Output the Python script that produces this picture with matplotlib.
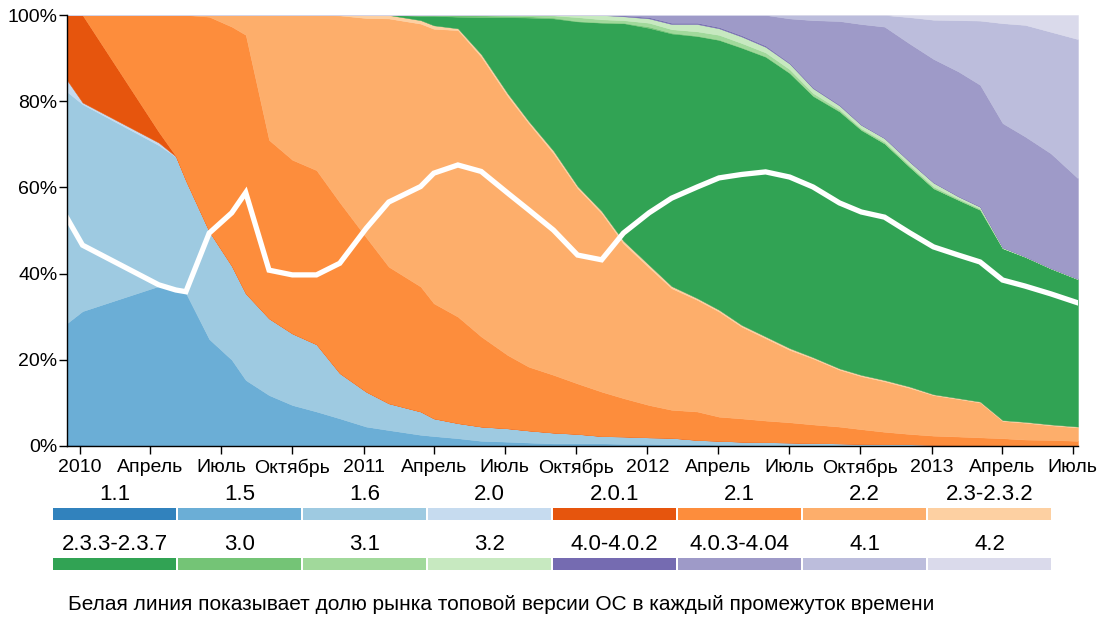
import numpy as np
import pandas as pd
import matplotlib
matplotlib.use("Agg")
import matplotlib.pyplot as plt
import matplotlib.dates as mdates
from matplotlib.patches import Rectangle

plt.rcParams['font.family'] = ['Liberation Sans', 'DejaVu Sans']

# Dashboard snapshot dates
dates = pd.to_datetime([
    "2009-12-15", "2010-01-04", "2010-04-12", "2010-05-04", "2010-05-17", "2010-06-16",
    "2010-07-15", "2010-08-02", "2010-09-01", "2010-10-01", "2010-11-01", "2010-12-01",
    "2011-01-04", "2011-02-02", "2011-03-15", "2011-04-01", "2011-05-02", "2011-06-01",
    "2011-07-05", "2011-08-01", "2011-09-02", "2011-10-03", "2011-11-03", "2011-12-01",
    "2012-01-03", "2012-02-01", "2012-03-05", "2012-04-02", "2012-05-01", "2012-06-01",
    "2012-07-02", "2012-08-01", "2012-09-04", "2012-10-02", "2012-11-01", "2012-12-03",
    "2013-01-03", "2013-02-04", "2013-03-04", "2013-04-02", "2013-05-01", "2013-06-03",
    "2013-07-08",
])

# Share (%) of each version at each date
v1_1 = [0.3, 0.3, 0, 0, 0, 0, 0, 0, 0, 0, 0, 0, 0, 0, 0, 0, 0, 0, 0, 0, 0, 0,
        0, 0, 0, 0, 0, 0, 0, 0, 0, 0, 0, 0, 0, 0, 0, 0, 0, 0, 0, 0, 0]
v1_5 = [28.2, 31.0, 37.1, 36.8, 35.5, 24.8, 20.0, 15.3, 11.8, 9.5, 8.0, 6.4, 4.5, 3.7,
        2.6, 2.3, 1.8, 1.2, 1.0, 0.8, 0.6, 0.6, 0.6, 0.5, 0.5, 0.4, 0.4, 0.3, 0.3, 0.2,
        0.2, 0.2, 0.2, 0.1, 0.1, 0.1, 0.1, 0, 0, 0, 0, 0, 0]
v1_6 = [53.7, 48.0, 32.7, 30.3, 26.0, 24.9, 21.8, 20.1, 17.8, 16.6, 15.6, 10.5, 8.1, 6.2,
        5.4, 4.1, 3.5, 3.3, 3.1, 2.8, 2.5, 2.2, 1.7, 1.7, 1.5, 1.5, 1.0, 0.9, 0.7, 0.7,
        0.6, 0.5, 0.4, 0.4, 0.3, 0.3, 0.2, 0.2, 0.2, 0.1, 0.1, 0.1, 0.0]
v2_0 = [2.7, 0.4, 0.6, 0.1, 0.1, 0.1, 0, 0, 0, 0, 0, 0, 0, 0, 0, 0, 0, 0, 0, 0, 0, 0,
        0, 0, 0, 0, 0, 0, 0, 0, 0, 0, 0, 0, 0, 0, 0, 0, 0, 0, 0, 0, 0]
v2_0_1 = [15.1, 20.3, 2.5, 0.1, 0, 0, 0, 0, 0, 0, 0, 0, 0, 0, 0, 0, 0, 0, 0, 0, 0, 0,
          0, 0, 0, 0, 0, 0, 0, 0, 0, 0, 0, 0, 0, 0, 0, 0, 0, 0, 0, 0, 0]
v2_1 = [0, 0, 27.1, 32.7, 38.4, 49.8, 55.5, 60.0, 41.4, 40.3, 40.4, 39.6, 35.8, 31.7,
        29.0, 26.7, 24.7, 20.9, 17.0, 14.8, 13.4, 11.7, 10.3, 8.9, 7.5, 6.5, 6.6, 5.6,
        5.4, 5.0, 4.7, 4.3, 3.9, 3.4, 2.9, 2.4, 2.1, 2.0, 1.8, 1.7, 1.4, 1.3, 1.2]
v2_2 = [0, 0, 0, 0, 0, 0.4, 2.7, 4.6, 29.0, 33.6, 36.0, 43.4, 50.9, 57.6, 61.0, 63.7,
        66.5, 64.9, 60.1, 56.5, 51.4, 45.3, 41.4, 35.9, 31.9, 28.2, 25.9, 24.4, 21.3,
        19.1, 16.8, 15.3, 13.2, 12.3, 11.7, 10.7, 9.4, 8.7, 8.1, 4.0, 3.9, 3.4, 3.1]
v2_3 = [0, 0, 0, 0, 0, 0, 0, 0, 0, 0, 0, 0.1, 0.7, 0.8, 0.8, 0.8, 0.4, 0.6, 0.6, 0.5,
        0.6, 0.5, 0.5, 0.6, 0.6, 0.5, 0.4, 0.4, 0.4, 0.4, 0.4, 0.3, 0.3, 0.3, 0.3, 0.3,
        0.2, 0.2, 0.2, 0.2, 0.2, 0.2, 0.2]
v2_3_3 = [0, 0, 0, 0, 0, 0, 0, 0, 0, 0, 0, 0, 0, 0, 1.0, 2.2, 2.7, 8.6, 17.7, 24.0,
          30.7, 38.2, 43.7, 50.5, 55.0, 58.6, 60.8, 62.6, 64.3, 64.9, 63.8, 60.6, 59.6,
          56.8, 54.9, 51.0, 47.8, 46.0, 44.5, 39.9, 38.3, 36.2, 34.2]
v3_0 = [0, 0, 0, 0, 0, 0, 0, 0, 0, 0, 0, 0, 0, 0, 0.2, 0.2, 0.4, 0.4, 0.3, 0.3, 0.2,
        0.1, 0.1, 0.1, 0.3, 0.2, 0.1, 0.1, 0.1, 0.1, 0.1, 0.1, 0.1, 0.1, 0, 0, 0, 0, 0,
        0, 0, 0, 0]
v3_1 = [0, 0, 0, 0, 0, 0, 0, 0, 0, 0, 0, 0, 0, 0, 0, 0, 0, 0.1, 0.2, 0.3, 0.5, 0.9,
        0.7, 0.6, 0.9, 0.8, 1.0, 1.1, 1.0, 0.9, 0.8, 0.6, 0.4, 0.3, 0.4, 0.4, 0.4, 0.3,
        0.3, 0, 0, 0, 0]
v3_2 = [0, 0, 0, 0, 0, 0, 0, 0, 0, 0, 0, 0, 0, 0, 0, 0, 0, 0, 0, 0, 0.1, 0.5, 1.0,
        0.9, 1.0, 1.2, 1.7, 1.5, 1.5, 1.3, 1.3, 1.1, 0.9, 0.8, 0.8, 0.8, 0.9, 0.5, 0.4,
        0.2, 0.1, 0.1, 0.1]
v4_0 = [0, 0, 0, 0, 0, 0, 0, 0, 0, 0, 0, 0, 0, 0, 0, 0, 0, 0, 0, 0, 0, 0, 0, 0.2,
        0.3, 0.3, 0.3, 0.3, 0.3, 0.3, 0.2, 0.2, 0.2, 0.1, 0.1, 0.1, 0.1, 0.1, 0.1, 0, 0,
        0, 0]
v4_0_3 = [0, 0, 0, 0, 0, 0, 0, 0, 0, 0, 0, 0, 0, 0, 0, 0, 0, 0, 0, 0, 0, 0, 0, 0.1,
          0.5, 1.8, 1.8, 2.8, 4.7, 7.1, 10.3, 15.6, 19.4, 23.3, 25.8, 27.3, 28.6, 28.9,
          28.2, 28.8, 27.8, 26.6, 23.3]
v4_1 = [0, 0, 0, 0, 0, 0, 0, 0, 0, 0, 0, 0, 0, 0, 0, 0, 0, 0, 0, 0, 0, 0, 0, 0, 0,
        0, 0, 0, 0, 0, 0.8, 1.2, 1.4, 2.1, 2.7, 6.1, 9.1, 11.9, 14.9, 23.2, 25.9, 28.2,
        32.3]
v4_2 = [0, 0, 0, 0, 0, 0, 0, 0, 0, 0, 0, 0, 0, 0, 0, 0, 0, 0, 0, 0, 0, 0, 0, 0, 0,
        0, 0, 0, 0, 0, 0, 0, 0, 0, 0, 0.5, 1.1, 1.2, 1.3, 1.9, 2.3, 3.9, 5.6]

# Share of the most popular version (white line)
top_share = [52.9, 46.6, 37.4, 36.2, 35.8, 49.4, 54.1, 58.8, 40.8, 39.7, 39.7, 42.4,
             50.5, 56.6, 60.2, 63.3, 65.2, 63.7, 58.7, 54.8, 50.1, 44.3, 43.2, 49.4,
             54.1, 57.5, 60.1, 62.2, 63.0, 63.6, 62.4, 60.1, 56.4, 54.3, 53.1, 49.5,
             46.2, 44.3, 42.7, 38.5, 37.1, 35.3, 33.2]

versions = ["1.1", "1.5", "1.6", "2.0", "2.0.1", "2.1", "2.2", "2.3-2.3.2",
            "2.3.3-2.3.7", "3.0", "3.1", "3.2", "4.0-4.0.2", "4.0.3-4.04", "4.1", "4.2"]
series = [v1_1, v1_5, v1_6, v2_0, v2_0_1, v2_1, v2_2, v2_3,
          v2_3_3, v3_0, v3_1, v3_2, v4_0, v4_0_3, v4_1, v4_2]
colors = ["#3182bd", "#6baed6", "#9ecae1", "#c6dbef", "#e6550d", "#fd8d3c", "#fdae6b",
          "#fdd0a2", "#31a354", "#74c476", "#a1d99b", "#c7e9c0", "#756bb1", "#9e9ac8",
          "#bcbddc", "#dadaeb"]

month_names = {4: "Апрель", 7: "Июль", 10: "Октябрь"}
caption = "Белая линия показывает долю рынка топовой версии ОС в каждый промежуток времени"

W, H = 1106, 625
fig = plt.figure(figsize=(W / 100, H / 100), dpi=100)

# Main chart
ax = fig.add_axes([67 / W, 1 - 446 / H, (1078 - 67) / W, 431 / H])
values = np.array(series, dtype=float)
values = values / values.sum(axis=0) * 100
ax.stackplot(dates, values, colors=colors, linewidth=0.3, edgecolor='face')
ax.plot(dates, top_share, color='white', linewidth=3.8, solid_joinstyle='miter')

ax.set_xlim(dates[0], dates[-1])
ax.set_ylim(0, 100)
ax.set_yticks(range(0, 101, 20))
ax.set_yticklabels([f"{v}%" for v in range(0, 101, 20)])
ax.xaxis.set_major_locator(mdates.MonthLocator(bymonth=[1, 4, 7, 10]))
ax.xaxis.set_major_formatter(plt.FuncFormatter(
    lambda v, pos: str(mdates.num2date(v).year) if mdates.num2date(v).month == 1
    else month_names[mdates.num2date(v).month]))
ax.tick_params(direction='out', length=6, width=1, color='black', labelsize=14, pad=3)
ax.tick_params(axis='y', pad=1)
for side in ['top', 'right']:
    ax.spines[side].set_visible(False)
for side in ['left', 'bottom']:
    ax.spines[side].set_color('black')
    ax.spines[side].set_linewidth(1)

# Legend and caption drawn in pixel space
lg = fig.add_axes([0, 0, 1, 1], facecolor='none')
lg.set_xlim(0, W)
lg.set_ylim(H, 0)
lg.axis('off')
for i, (name, col) in enumerate(zip(versions, colors)):
    row, colnum = divmod(i, 8)
    x0 = 53 + colnum * 125
    ybar = 508 + row * 50
    lg.add_patch(Rectangle((x0, ybar), 123, 12, facecolor=col, edgecolor='none'))
    lg.text(x0 + 61.5, ybar - 14, name, ha='center', va='center', fontsize=16)
lg.text(68, 604, caption, ha='left', va='center', fontsize=15)

fig.savefig("out.png", dpi=100)
